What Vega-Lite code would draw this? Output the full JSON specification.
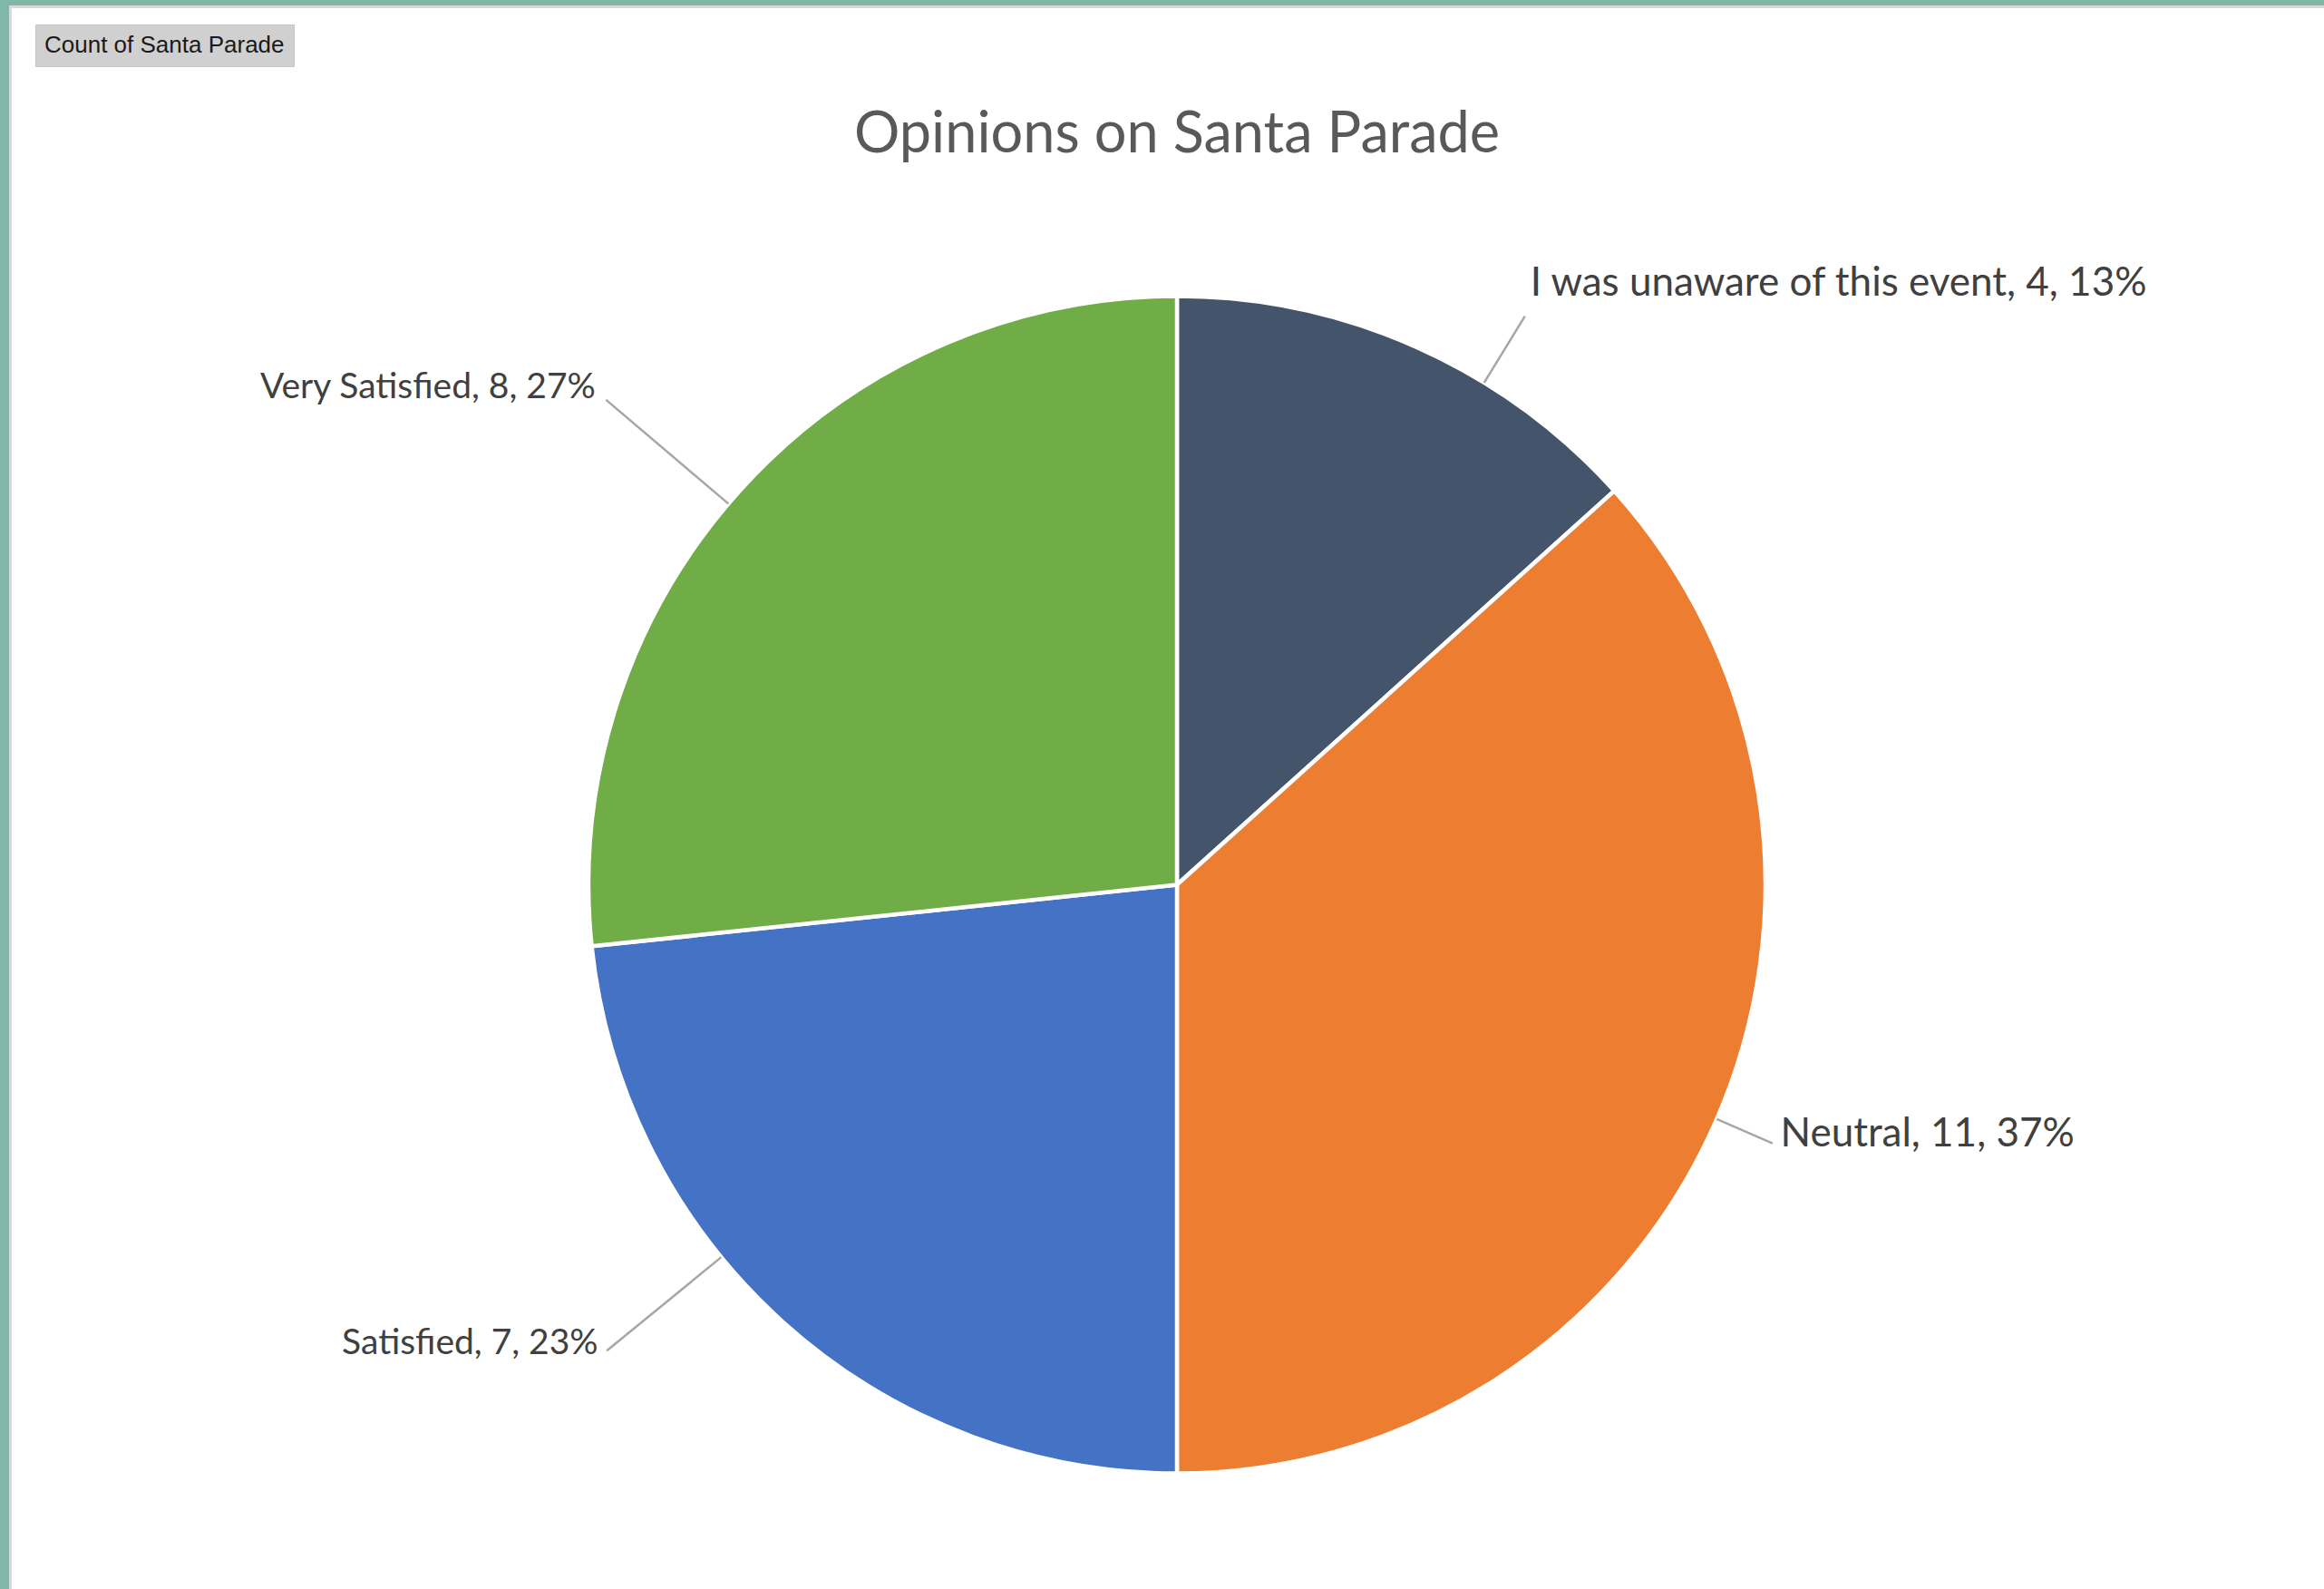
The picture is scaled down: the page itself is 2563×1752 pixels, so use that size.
{
  "$schema": "https://vega.github.io/schema/vega-lite/v6.json",
  "width": 2573,
  "height": 1936,
  "autosize": {"type": "none"},
  "padding": {"left": 11.5, "top": 7.5, "right": 0, "bottom": 0},
  "background": "#7fb8a8",
  "view": {"fill": "white", "stroke": "#d9d9d9", "strokeWidth": 3},
  "title": {
    "text": "Opinions on Santa Parade",
    "font": "Lato",
    "fontSize": 63,
    "fontWeight": "normal",
    "color": "#595959",
    "anchor": "middle",
    "baseline": "top",
    "offset": -173
  },
  "data": {
    "values": [
      {"category": "I was unaware of this event", "count": 4, "label": "I was unaware of this event, 4, 13%"},
      {"category": "Neutral", "count": 11, "label": "Neutral, 11, 37%"},
      {"category": "Satisfied", "count": 7, "label": "Satisfied, 7, 23%"},
      {"category": "Very Satisfied", "count": 8, "label": "Very Satisfied, 8, 27%"}
    ]
  },
  "encoding": {
    "theta": {"field": "count", "type": "quantitative", "stack": true}
  },
  "layer": [
    {
      "mark": {"type": "arc", "outerRadius": 649, "stroke": "white", "strokeWidth": 4.5},
      "encoding": {
        "color": {
          "field": "category",
          "type": "nominal",
          "scale": {
            "domain": ["I was unaware of this event", "Neutral", "Satisfied", "Very Satisfied"],
            "range": ["#44546A", "#ED7D31", "#4472C4", "#70AD47"]
          },
          "legend": {
            "title": "Count of Santa Parade\u00a0\u00a0",
            "values": [],
            "orient": "none",
            "legendX": 27.5,
            "legendY": 19.5,
            "fillColor": "#d0d0d0",
            "strokeColor": "#c4c4c4",
            "padding": 10,
            "titleFont": "Liberation Sans",
            "titleFontSize": 26,
            "titleFontWeight": "normal",
            "titleColor": "#1a1a1a",
            "titleLimit": 1000,
            "titlePadding": 0
          }
        }
      }
    },
    {
      "mark": {
        "type": "arc",
        "filled": false,
        "padAngle": 3.14,
        "innerRadius": 649,
        "outerRadius": {"expr": "datum.category == 'Neutral' ? 716 : datum.category == 'Satisfied' ? 812 : datum.category == 'Very Satisfied' ? 826 : 735"},
        "thetaOffset": {"expr": "datum.category == 'Neutral' ? -0.0094 : datum.category == 'Satisfied' ? 0.1527 : datum.category == 'Very Satisfied' ? -0.029 : 0.1304"},
        "theta2Offset": {"expr": "datum.category == 'Neutral' ? -0.0094 : datum.category == 'Satisfied' ? 0.1527 : datum.category == 'Very Satisfied' ? -0.029 : 0.1304"},
        "stroke": "#a6a6a6",
        "strokeWidth": 2.5
      },
      "encoding": {"detail": {"field": "category", "type": "nominal"}}
    },
    {
      "mark": {
        "type": "text",
        "radius": 700,
        "font": "Lato",
        "fontSize": {"expr": "datum.category == 'Satisfied' || datum.category == 'Very Satisfied' ? 39 : 44"},
        "fill": "#404040",
        "baseline": "middle",
        "align": {"expr": "datum.category == 'Neutral' || datum.category == 'I was unaware of this event' ? 'left' : 'right'"},
        "dx": {"expr": "datum.category == 'Neutral' ? 26 : datum.category == 'Satisfied' ? -170 : datum.category == 'Very Satisfied' ? -121 : 105"},
        "dy": {"expr": "datum.category == 'Neutral' ? -9 : datum.category == 'Satisfied' ? -15 : datum.category == 'Very Satisfied' ? -80 : -23"}
      },
      "encoding": {
        "text": {"field": "label", "type": "nominal"},
        "detail": {"field": "category", "type": "nominal"}
      }
    }
  ]
}
